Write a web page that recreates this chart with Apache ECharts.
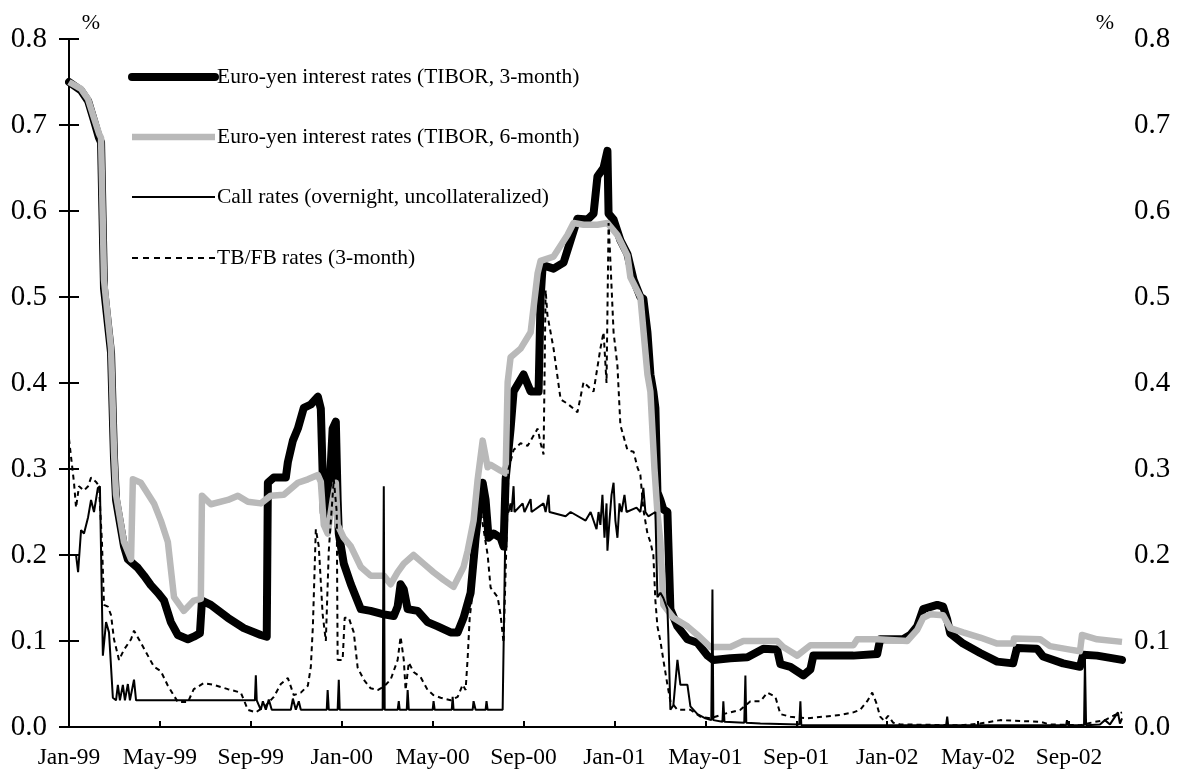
<!DOCTYPE html>
<html><head><meta charset="utf-8">
<script src="https://cdn.jsdelivr.net/npm/echarts@6/dist/echarts.min.js"></script>
<style>html,body{margin:0;padding:0;background:#fff}#c{width:1186px;height:776px}</style>
</head><body><div id="c"></div>
<script>
// x values: months since 1 Jan 1999
const xTickLabels = ['Jan-99','May-99','Sep-99','Jan-00','May-00','Sep-00','Jan-01','May-01','Sep-01','Jan-02','May-02','Sep-02'];
const legendNames = [
  'Euro-yen interest rates (TIBOR, 3-month)',
  'Euro-yen interest rates (TIBOR, 6-month)',
  'Call rates (overnight, uncollateralized)',
  'TB/FB rates (3-month)'
];

const tibor3m = [[0,0.75],[0.53,0.74],[0.84,0.728],[1.10,0.705],[1.32,0.685],[1.41,0.68],[1.54,0.51],[1.85,0.435],[1.98,0.313],[2.07,0.264],[2.42,0.21],[2.59,0.195],[3.03,0.185],[3.30,0.176],[3.60,0.165],[3.91,0.156],[4.18,0.147],[4.48,0.122],[4.79,0.107],[5.23,0.102],[5.49,0.105],[5.76,0.109],[5.85,0.147],[6.24,0.142],[6.99,0.127],[7.69,0.115],[8.44,0.107],[8.70,0.105],[8.75,0.284],[9.01,0.29],[9.54,0.29],[9.63,0.308],[9.85,0.333],[10.07,0.347],[10.33,0.371],[10.64,0.375],[10.95,0.384],[11.08,0.37],[11.21,0.249],[11.38,0.235],[11.60,0.347],[11.74,0.355],[11.82,0.264],[11.87,0.225],[12.09,0.19],[12.40,0.166],[12.84,0.137],[13.27,0.135],[13.85,0.131],[14.29,0.129],[14.46,0.14],[14.59,0.166],[14.73,0.16],[14.90,0.137],[15.34,0.135],[15.78,0.122],[16.22,0.117],[16.79,0.11],[17.10,0.11],[17.36,0.127],[17.67,0.156],[17.89,0.22],[18.02,0.249],[18.20,0.284],[18.33,0.264],[18.46,0.22],[18.68,0.225],[18.99,0.22],[19.12,0.21],[19.21,0.288],[19.43,0.347],[19.56,0.39],[20.00,0.41],[20.31,0.39],[20.66,0.39],[20.75,0.499],[20.84,0.537],[21.32,0.533],[21.76,0.54],[22.07,0.566],[22.37,0.591],[22.81,0.59],[23.08,0.597],[23.25,0.64],[23.38,0.645],[23.52,0.65],[23.69,0.67],[23.74,0.597],[23.96,0.59],[24.26,0.566],[24.57,0.55],[24.84,0.52],[25.14,0.5],[25.27,0.498],[25.45,0.459],[25.58,0.41],[25.71,0.39],[25.80,0.371],[25.89,0.273],[26.02,0.264],[26.15,0.253],[26.33,0.25],[26.37,0.215],[26.46,0.137],[26.77,0.117],[27.21,0.102],[27.65,0.098],[28.09,0.083],[28.35,0.078],[29.10,0.08],[29.85,0.081],[30.55,0.091],[31.16,0.09],[31.30,0.073],[31.74,0.07],[32.31,0.06],[32.62,0.067],[32.75,0.083],[33.49,0.083],[34.51,0.083],[35.56,0.085],[35.69,0.102],[36.70,0.102],[37.01,0.107],[37.32,0.117],[37.58,0.137],[38.20,0.142],[38.46,0.14],[38.64,0.125],[38.77,0.109],[39.34,0.097],[40.09,0.086],[40.84,0.076],[41.54,0.074],[41.71,0.092],[42.59,0.091],[42.86,0.082],[43.74,0.074],[44.48,0.07],[44.62,0.084],[45.23,0.083],[46.33,0.078]];

const tibor6m = [[0,0.75],[0.53,0.742],[0.84,0.73],[1.10,0.708],[1.32,0.69],[1.41,0.685],[1.54,0.52],[1.85,0.44],[1.98,0.32],[2.07,0.27],[2.42,0.215],[2.73,0.195],[2.77,0.193],[2.81,0.288],[3.16,0.284],[3.74,0.26],[4.04,0.24],[4.35,0.215],[4.62,0.151],[5.05,0.135],[5.49,0.147],[5.80,0.149],[5.85,0.269],[6.24,0.259],[6.99,0.264],[7.43,0.269],[7.87,0.262],[8.44,0.26],[8.88,0.269],[9.45,0.27],[10.07,0.284],[10.51,0.288],[10.95,0.293],[11.08,0.285],[11.21,0.235],[11.38,0.225],[11.60,0.264],[11.74,0.284],[11.82,0.235],[12.09,0.22],[12.40,0.21],[12.84,0.186],[13.27,0.176],[13.85,0.176],[14.15,0.166],[14.46,0.18],[14.73,0.19],[15.16,0.2],[15.60,0.19],[16.04,0.18],[16.48,0.171],[16.92,0.163],[17.36,0.186],[17.54,0.205],[17.80,0.24],[17.98,0.288],[18.20,0.333],[18.42,0.302],[18.55,0.305],[18.99,0.298],[19.21,0.295],[19.30,0.401],[19.43,0.43],[19.87,0.44],[20.31,0.459],[20.62,0.528],[20.75,0.542],[21.32,0.547],[21.93,0.572],[22.20,0.586],[22.64,0.584],[23.25,0.584],[23.69,0.586],[24.13,0.572],[24.57,0.548],[24.70,0.523],[25.14,0.5],[25.45,0.41],[25.58,0.39],[25.76,0.3],[25.89,0.249],[26.02,0.215],[26.15,0.142],[26.59,0.127],[27.21,0.117],[27.65,0.107],[28.22,0.093],[29.10,0.093],[29.67,0.1],[30.55,0.1],[31.16,0.1],[31.43,0.093],[32.04,0.083],[32.62,0.095],[34.51,0.095],[34.68,0.102],[35.56,0.102],[36.88,0.1],[37.32,0.113],[37.58,0.127],[37.89,0.131],[38.46,0.13],[38.77,0.115],[39.34,0.11],[40.09,0.104],[40.84,0.097],[41.54,0.097],[41.58,0.103],[42.73,0.102],[43.16,0.094],[44.04,0.09],[44.48,0.088],[44.57,0.107],[45.23,0.102],[46.33,0.099]];

const callRate = [[0,0.2],[0.31,0.2],[0.40,0.18],[0.53,0.229],[0.66,0.225],[0.84,0.244],[0.97,0.264],[1.10,0.25],[1.27,0.278],[1.36,0.28],[1.49,0.083],[1.63,0.122],[1.76,0.11],[1.93,0.034],[2.07,0.031],[2.15,0.049],[2.24,0.031],[2.37,0.049],[2.46,0.031],[2.59,0.05],[2.68,0.031],[2.86,0.055],[2.95,0.031],[8.18,0.031],[8.22,0.06],[8.26,0.031],[8.44,0.02],[8.53,0.03],[8.66,0.02],[8.79,0.032],[8.92,0.02],[9.76,0.02],[9.85,0.033],[9.98,0.02],[10.11,0.03],[10.20,0.02],[11.34,0.02],[11.38,0.043],[11.43,0.02],[11.82,0.02],[11.87,0.055],[11.91,0.02],[13.80,0.02],[13.85,0.28],[13.89,0.02],[14.46,0.02],[14.51,0.03],[14.55,0.02],[14.86,0.02],[14.90,0.043],[14.95,0.02],[16.00,0.02],[16.04,0.03],[16.09,0.02],[16.84,0.02],[16.88,0.035],[16.92,0.02],[17.76,0.02],[17.80,0.03],[17.89,0.02],[18.33,0.02],[18.37,0.03],[18.42,0.02],[19.08,0.02],[19.21,0.25],[19.34,0.25],[19.43,0.26],[19.47,0.25],[19.56,0.28],[19.60,0.25],[19.96,0.26],[20.04,0.25],[20.31,0.265],[20.35,0.25],[20.88,0.26],[20.97,0.25],[21.10,0.27],[21.14,0.25],[21.85,0.245],[22.07,0.25],[22.73,0.24],[22.95,0.25],[23.21,0.23],[23.30,0.25],[23.38,0.235],[23.47,0.27],[23.56,0.22],[23.65,0.26],[23.69,0.205],[23.78,0.24],[23.87,0.27],[23.96,0.284],[24.04,0.24],[24.13,0.22],[24.22,0.26],[24.31,0.25],[24.44,0.27],[24.53,0.25],[24.97,0.255],[25.14,0.25],[25.27,0.278],[25.36,0.25],[25.49,0.245],[25.80,0.25],[25.89,0.151],[26.02,0.156],[26.15,0.15],[26.33,0.137],[26.37,0.107],[26.46,0.02],[26.59,0.025],[26.77,0.078],[26.90,0.049],[27.21,0.049],[27.34,0.024],[27.65,0.015],[28.00,0.01],[28.26,0.008],[28.31,0.16],[28.35,0.008],[28.75,0.006],[28.79,0.03],[28.84,0.006],[29.71,0.005],[29.76,0.06],[29.80,0.005],[30.42,0.004],[32.13,0.003],[32.18,0.03],[32.22,0.002],[38.59,0.002],[38.64,0.012],[38.68,0.002],[43.87,0.002],[43.91,0.008],[43.96,0.002],[44.66,0.002],[44.70,0.078],[44.75,0.002],[45.36,0.003],[45.58,0.008],[45.80,0.003],[46.15,0.017],[46.24,0.004],[46.33,0.01]];

const tbfbRate = [[0,0.335],[0.22,0.284],[0.31,0.255],[0.44,0.28],[0.66,0.275],[0.84,0.28],[0.97,0.29],[1.19,0.285],[1.32,0.28],[1.45,0.215],[1.54,0.142],[1.71,0.14],[1.85,0.13],[1.98,0.102],[2.20,0.078],[2.42,0.09],[2.73,0.102],[2.86,0.112],[3.16,0.098],[3.47,0.083],[3.74,0.07],[4.04,0.065],[4.35,0.048],[4.79,0.029],[5.23,0.029],[5.49,0.044],[5.93,0.051],[6.37,0.049],[6.99,0.044],[7.56,0.04],[7.87,0.02],[8.22,0.017],[8.66,0.025],[9.01,0.035],[9.32,0.05],[9.63,0.057],[9.89,0.037],[10.20,0.04],[10.51,0.048],[10.64,0.07],[10.73,0.117],[10.86,0.23],[10.99,0.21],[11.16,0.131],[11.30,0.1],[11.43,0.205],[11.65,0.288],[11.78,0.25],[11.82,0.078],[12.04,0.078],[12.13,0.127],[12.31,0.127],[12.53,0.11],[12.70,0.069],[12.97,0.055],[13.27,0.045],[13.58,0.043],[13.85,0.047],[14.15,0.055],[14.46,0.078],[14.59,0.105],[14.73,0.078],[14.81,0.043],[14.95,0.075],[15.16,0.064],[15.47,0.058],[15.78,0.043],[16.04,0.037],[16.35,0.034],[16.79,0.031],[17.10,0.035],[17.32,0.049],[17.45,0.043],[17.54,0.08],[17.63,0.127],[17.80,0.166],[17.98,0.215],[18.11,0.253],[18.24,0.23],[18.42,0.2],[18.55,0.162],[18.86,0.151],[18.99,0.13],[19.12,0.098],[19.34,0.3],[19.56,0.322],[19.87,0.33],[20.18,0.327],[20.62,0.347],[20.75,0.33],[20.88,0.317],[20.97,0.508],[21.05,0.479],[21.32,0.44],[21.63,0.381],[21.93,0.376],[22.20,0.37],[22.37,0.366],[22.64,0.401],[23.08,0.39],[23.38,0.44],[23.52,0.459],[23.65,0.4],[23.74,0.586],[23.82,0.542],[23.96,0.459],[24.13,0.42],[24.26,0.351],[24.57,0.322],[24.84,0.32],[25.01,0.302],[25.14,0.293],[25.27,0.253],[25.45,0.225],[25.58,0.215],[25.71,0.2],[25.80,0.147],[25.89,0.117],[26.02,0.1],[26.15,0.078],[26.33,0.049],[26.46,0.03],[26.77,0.02],[27.34,0.02],[27.78,0.012],[28.22,0.01],[28.79,0.015],[29.54,0.02],[29.98,0.03],[30.42,0.03],[30.73,0.04],[31.08,0.035],[31.30,0.015],[31.74,0.012],[32.48,0.01],[33.19,0.012],[33.93,0.014],[34.51,0.017],[34.81,0.02],[35.12,0.03],[35.34,0.04],[35.52,0.028],[35.69,0.012],[35.87,0.007],[36.04,0.013],[36.26,0.005],[36.57,0.003],[39.21,0.002],[40.09,0.004],[40.97,0.008],[41.85,0.007],[42.73,0.006],[43.16,0.003],[44.48,0.002],[45.14,0.006],[45.58,0.008],[46.02,0.014],[46.33,0.017]];

const X_MAX = 46.33;
const FONT = '"Liberation Serif", "Times New Roman", serif';

const chart = echarts.init(document.getElementById('c'), null, {renderer: 'canvas'});

const yAxisCommon = {
  type: 'value', min: 0, max: 0.8, interval: 0.1,
  splitLine: {show: false},
  axisLine: {show: true, lineStyle: {color: '#000', width: 2}},
  axisTick: {show: true, inside: false, length: 10, lineStyle: {color: '#000', width: 2}},
  axisLabel: {color: '#000', fontFamily: FONT, fontSize: 29, formatter: v => v.toFixed(1)}
};

const legendY = [77, 137, 197, 258];
const legendStyles = [
  {stroke: '#000', lineWidth: 8, lineCap: 'round'},
  {stroke: '#b9b9b9', lineWidth: 6.5, lineCap: 'butt'},
  {stroke: '#000', lineWidth: 2},
  {stroke: '#000', lineWidth: 2, lineDash: [6, 5]}
];
const graphics = [];
legendNames.forEach((name, i) => {
  graphics.push({type: 'line', shape: {x1: 132, y1: legendY[i], x2: 215, y2: legendY[i]}, style: legendStyles[i], silent: true});
  graphics.push({type: 'text', x: 217, y: legendY[i], style: {text: name, fontFamily: FONT, fontSize: 21.5, fill: '#000', verticalAlign: 'middle', align: 'left'}, silent: true});
});
graphics.push({type: 'text', x: 91, y: 23, style: {text: '%', fontFamily: FONT, fontSize: 22, fill: '#000', align: 'center', verticalAlign: 'middle'}});
graphics.push({type: 'text', x: 1105, y: 23, style: {text: '%', fontFamily: FONT, fontSize: 22, fill: '#000', align: 'center', verticalAlign: 'middle'}});

const option = {
  animation: false,
  backgroundColor: '#fff',
  grid: {left: 69, right: 64, top: 39, bottom: 49, containLabel: false, outerBoundsMode: 'none'},
  xAxis: [
    {
      type: 'value', min: 0, max: X_MAX, interval: 4, position: 'bottom',
      splitLine: {show: false},
      axisLine: {show: true, lineStyle: {color: '#000', width: 2}},
      axisTick: {show: true, inside: true, length: 6, lineStyle: {color: '#000', width: 2}},
      axisLabel: {
        color: '#000', fontFamily: FONT, fontSize: 23.5, margin: 19, showMaxLabel: false,
        formatter: v => {
          const k = v / 4;
          return Math.abs(k - Math.round(k)) < 1e-6 ? (xTickLabels[Math.round(k)] || '') : '';
        }
      }
    },
    {
      type: 'value', min: 0, max: X_MAX, position: 'top',
      splitLine: {show: false},
      axisLine: {show: true, lineStyle: {color: '#000', width: 2}},
      axisTick: {show: false}, axisLabel: {show: false}
    }
  ],
  yAxis: [
    Object.assign({}, yAxisCommon, {position: 'left', axisLabel: Object.assign({}, yAxisCommon.axisLabel, {margin: 22})}),
    Object.assign({}, yAxisCommon, {position: 'right', axisLabel: Object.assign({}, yAxisCommon.axisLabel, {margin: 12})})
  ],
  graphic: graphics,
  series: [
    {name: legendNames[0], type: 'line', data: tibor3m, symbol: 'none', showSymbol: false, z: 2,
     lineStyle: {color: '#000', width: 8, cap: 'round', join: 'round'}},
    {name: legendNames[1], type: 'line', data: tibor6m, symbol: 'none', showSymbol: false, z: 3,
     lineStyle: {color: '#b9b9b9', width: 6.5, join: 'round'}},
    {name: legendNames[2], type: 'line', data: callRate, symbol: 'none', showSymbol: false, z: 4,
     lineStyle: {color: '#000', width: 2}},
    {name: legendNames[3], type: 'line', data: tbfbRate, symbol: 'none', showSymbol: false, z: 5,
     lineStyle: {color: '#000', width: 2, type: [5, 4]}}
  ]
};
chart.setOption(option);
</script></body></html>
